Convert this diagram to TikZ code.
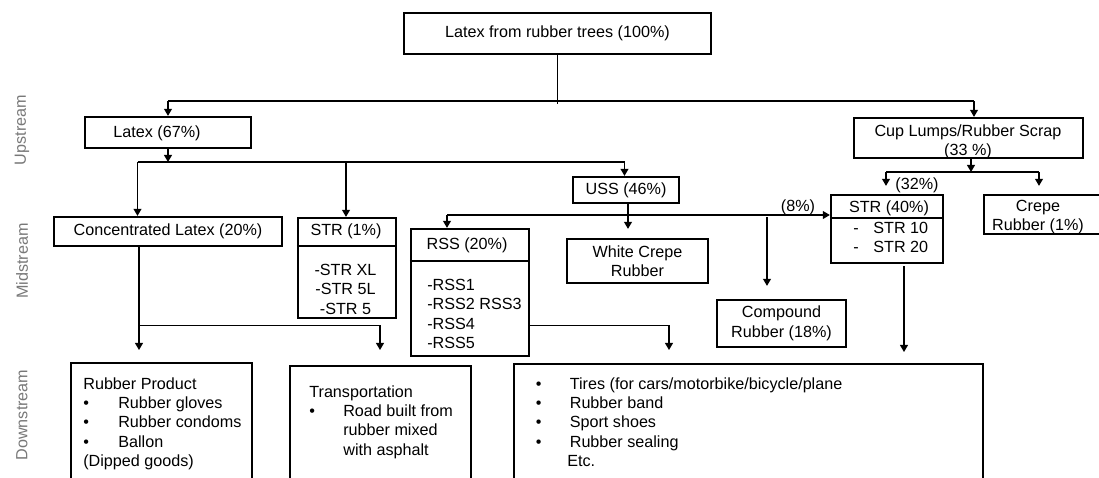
\documentclass[tikz,border=0pt]{standalone}
\usepackage{fontspec}
\setmainfont{Liberation Sans}
\usetikzlibrary{arrows.meta}
\definecolor{stagegray}{RGB}{120,120,120}

\begin{document}
\begin{tikzpicture}[x=0.02cm,y=-0.02cm,
  every node/.style={font=\fontsize{9.2}{11.07}\selectfont},
  box/.style={draw,line width=1.3pt,inner sep=0pt},
  txt/.style={inner sep=0pt},
  link/.style={line width=0.7pt},
  arr/.style={line width=0.7pt,-{Triangle[length=4pt,width=4.5pt]}},
  sep/.style={line width=0.6pt},
  stage/.style={rotate=90,text=stagegray}]
\useasboundingbox (0,0) rectangle (1099,477);
\clip (0,0) rectangle (1099,477);
% stage labels
\node[stage] (up) at (22,130) {Upstream};
\node[stage] (mid) at (22,261) {Midstream};
\node[stage] (down) at (22,415) {Downstream};
% upstream
\node[box,minimum width=6.14cm,minimum height=0.82cm] (src) at (557.5,33.5) {Latex from rubber trees (100\%)};
\node[box,minimum width=3.32cm,minimum height=0.62cm] (latex) at (168,132.5) {};
\node[txt] (latext) at (157,133) {Latex (67\%)};
\node[box,minimum width=4.58cm,minimum height=0.80cm] (cup) at (968.5,138) {};
\node[txt,align=center] (cupt) at (968,142) {Cup Lumps/Rubber Scrap\\(33 \%)};
% midstream
\node[box,minimum width=4.56cm,minimum height=0.58cm] (conc) at (168,231.5) {Concentrated Latex (20\%)};
\node[box,minimum width=1.96cm,minimum height=2.00cm] (str1) at (347,268) {};
\node[txt] (str1h) at (346,231) {STR (1\%)};
\node[txt,align=center] (str1b) at (345.5,289) {-STR XL\\-STR 5L\\-STR 5};
\draw[sep] (str1.west |- 0,246) -- (str1.east |- 0,246);
\node[box,minimum width=2.36cm,minimum height=2.54cm] (rss) at (470,292.5) {};
\node[txt] (rssh) at (467,245) {RSS (20\%)};
\node[txt,align=left,anchor=west] (rssb) at (427,314) {-RSS1\\-RSS2 RSS3\\-RSS4\\-RSS5};
\draw[sep] (rss.west |- 0,261) -- (rss.east |- 0,261);
\node[box,minimum width=2.12cm,minimum height=0.52cm] (uss) at (626,190) {USS (46\%)};
\node[box,minimum width=2.82cm,minimum height=0.88cm,align=center] (white) at (637.5,261) {White Crepe\\Rubber};
\node[box,minimum width=2.58cm,minimum height=0.94cm,align=center] (comp) at (781.5,323.5) {Compound\\Rubber (18\%)};
\node[box,minimum width=2.24cm,minimum height=1.36cm] (str40) at (887,229) {};
\node[txt] (str40h) at (889,208) {STR (40\%)};
\node[txt,align=left,anchor=west] (str40b) at (853,237.5) {\makebox[0.40cm][l]{-}STR 10\\\makebox[0.40cm][l]{-}STR 20};
\draw[sep] (str40.west |- 0,218) -- (str40.east |- 0,218);
\node[box,minimum width=3.00cm,minimum height=0.78cm] (crepe) at (1059,214.5) {};
\node[txt,align=center] (crepet) at (1038,217) {Crepe\\Rubber (1\%)};
\node[txt] (pc8) at (798,207) {(8\%)};
\node[txt] (pc32) at (917,185) {(32\%)};
% downstream
\node[box,minimum width=3.62cm,minimum height=3cm,anchor=north west] (prod) at (70,362) {};
\node[txt,align=left,anchor=north west,xshift=0.26cm,yshift=-0.30cm] (prodt) at (prod.north west)
  {Rubber Product\\\makebox[0.70cm][l]{•}Rubber gloves\\\makebox[0.70cm][l]{•}Rubber condoms\\\makebox[0.70cm][l]{•}Ballon\\(Dipped goods)};
\node[box,minimum width=3.62cm,minimum height=3cm,anchor=north west] (trans) at (289,365) {};
\node[txt,align=left,anchor=north west,xshift=0.40cm,yshift=-0.40cm] (transt) at (trans.north west)
  {Transportation\\\makebox[0.68cm][l]{•}Road built from\\\hspace*{0.68cm}rubber mixed\\\hspace*{0.68cm}with asphalt};
\node[box,minimum width=9.39cm,minimum height=3cm,anchor=north west] (uses) at (512.5,363) {};
\node[txt,align=left,anchor=north west,xshift=0.46cm,yshift=-0.28cm] (usest) at (uses.north west)
  {\makebox[0.68cm][l]{•}Tires (for cars/motorbike/bicycle/plane\\\makebox[0.68cm][l]{•}Rubber band\\\makebox[0.68cm][l]{•}Sport shoes\\\makebox[0.68cm][l]{•}Rubber sealing\\\hspace*{0.63cm}Etc.};
% connectors: source
\coordinate (t0) at (557.5,104);
\coordinate (a1) at (168,101);
\coordinate (a2) at (974,101);
\draw[link] (src) -- (t0);
\draw[link] (a1) -- (a2);
\draw[arr] (a1) -- (latex);
\draw[arr] (a2) -- (a2 |- cup.north);
% latex branch
\coordinate (b0) at (168,162);
\coordinate (b1) at (137.5,162);
\coordinate (b2) at (346,162);
\coordinate (b3) at (624.5,162);
\draw[arr] (latex) -- (b0);
\draw[link] (b1) -- (b3);
\draw[arr] (b1) -- (b1 |- conc.north);
\draw[arr] (b2) -- (b2 |- str1.north);
\draw[arr] (b3) -- (b3 |- uss.north);
% cup lumps branch
\coordinate (c0) at (971,172);
\coordinate (c1) at (886,172);
\coordinate (c2) at (1039,172);
\draw[arr] (cup.south -| c0) -- (c0);
\draw[link] (c1) -- (c2);
\draw[arr,shorten >=0.16cm] (c1) -- (c1 |- str40.north);
\draw[arr,shorten >=0.16cm] (c2) -- (c2 |- crepe.north);
% uss branch
\coordinate (d1) at (447,215);
\coordinate (d2) at (767,217);
\draw[arr,shorten >=0.18cm] ([xshift=0.04cm]uss.south) -- ([xshift=0.04cm]uss.south |- white.north);
\draw[arr] (d1) -- (d1 -| str40.west);
\draw[arr] (d1) -- (d1 |- rss.north);
\draw[arr,shorten >=0.26cm] (d2) -- (d2 |- comp.north);
% to downstream
\coordinate (e0) at (139,325.7);
\coordinate (e1) at (380,325.7);
\coordinate (f1) at (669,325.7);
\coordinate (g0) at (904,266);
\draw[arr,shorten >=0.24cm] (conc.south -| e0) -- (e0 |- prod.north);
\draw[arr,shorten >=0.30cm] (e0) -| (e1 |- trans.north);
\draw[arr,shorten >=0.26cm] (rss.east |- f1) -| (f1 |- uses.north);
\draw[arr,shorten >=0.22cm] (g0) -- (g0 |- uses.north);
\end{tikzpicture}
\end{document}
